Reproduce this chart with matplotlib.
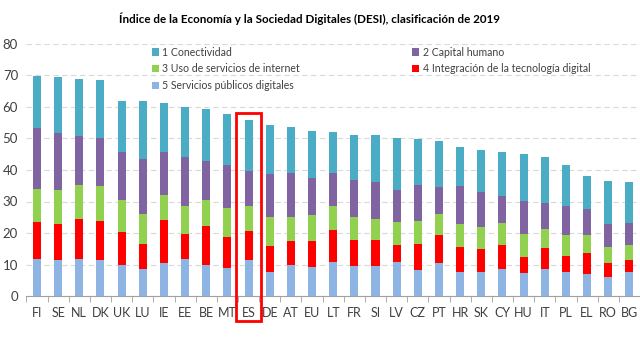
import numpy as np
import matplotlib.pyplot as plt
from matplotlib.patches import Rectangle

paises = ["FI", "SE", "NL", "DK", "UK", "LU", "IE", "EE", "BE", "MT", "ES", "DE", "AT", "EU",
          "LT", "FR", "SI", "LV", "CZ", "PT", "HR", "SK", "CY", "HU", "IT", "PL", "EL", "RO", "BG"]

# componentes DESI (de abajo hacia arriba en la pila)
servicios_publicos = [11.8, 11.5, 11.8, 11.5, 10.0, 8.7, 10.4, 11.8, 9.7, 8.9, 11.5, 7.5, 9.7, 9.2,
                      10.9, 9.5, 9.5, 10.9, 8.3, 10.6, 7.7, 7.7, 8.7, 7.3, 8.7, 7.7, 6.9, 6.1, 7.5]
integracion = [11.7, 11.5, 12.5, 12.3, 10.3, 7.9, 13.6, 7.9, 12.4, 9.7, 9.2, 8.5, 7.9, 8.4,
               10.0, 8.3, 8.3, 5.3, 8.3, 8.7, 7.9, 7.2, 7.5, 5.1, 6.4, 5.0, 6.7, 4.4, 3.9]
uso_internet = [10.5, 10.7, 11.0, 11.1, 10.1, 9.4, 8.2, 9.0, 8.4, 9.3, 7.9, 9.0, 7.6, 8.0,
                7.8, 7.2, 6.7, 7.3, 7.2, 6.7, 7.4, 7.1, 7.1, 7.3, 6.2, 6.6, 5.9, 4.9, 4.8]
capital_humano = [19.4, 18.0, 15.4, 15.3, 15.4, 17.4, 13.6, 15.5, 12.3, 13.6, 11.2, 13.7, 14.0, 12.0,
                  10.5, 11.9, 11.6, 10.1, 11.4, 8.6, 12.0, 11.1, 8.6, 10.5, 8.1, 9.2, 8.1, 7.6, 7.1]
conectividad = [16.5, 17.7, 18.2, 18.4, 16.2, 18.4, 15.5, 15.8, 16.5, 16.4, 16.2, 15.7, 14.6, 14.9,
                12.8, 14.1, 14.9, 16.5, 14.7, 14.6, 12.4, 13.2, 13.8, 15.0, 14.6, 13.0, 10.4, 13.4, 12.9]

series = [
    ("5 Servicios públicos digitales", servicios_publicos, "#8EB4E3"),
    ("4 Integración de la tecnología digital", integracion, "#FF0000"),
    ("3 Uso de servicios de internet", uso_internet, "#92D050"),
    ("2 Capital humano", capital_humano, "#8064A2"),
    ("1 Conectividad", conectividad, "#4BACC6"),
]

plt.rcParams["font.family"] = ["Lato", "DejaVu Sans"]

fig = plt.figure(figsize=(6.4, 3.4), dpi=100)
ax = fig.add_axes([26.4 / 640, 44 / 340, 613.6 / 640, 252 / 340])

x = np.arange(len(paises))
bottom = np.zeros(len(paises))
handles = {}
for name, vals, color in series:
    vals = np.array(vals)
    b = ax.bar(x, vals, width=0.38, bottom=bottom, color=color, label=name, zorder=3)
    handles[name] = b
    bottom += vals

ax.set_ylim(0, 80)
ax.set_xlim(-0.5, len(paises) - 0.5)
ax.set_yticks(range(0, 81, 10))
ax.tick_params(axis="y", length=0, labelsize=9.5, colors="#404040", pad=6)
ax.set_xticks(x)
ax.set_xticklabels(paises)
ax.tick_params(axis="x", which="major", length=0, labelsize=9, colors="#404040", pad=8)
ax.set_xticks(np.arange(-0.5, len(paises), 1), minor=True)
ax.tick_params(axis="x", which="minor", length=4, color="#A0A0A0", direction="out")
ax.grid(axis="y", color="#D9D9D9", linestyle=(0, (5, 3)), linewidth=0.8, zorder=0)
for s in ["left", "right", "top"]:
    ax.spines[s].set_visible(False)
ax.spines["bottom"].set_color("#A0A0A0")

order = ["1 Conectividad", "3 Uso de servicios de internet", "5 Servicios públicos digitales",
         "2 Capital humano", "4 Integración de la tecnología digital"]
leg = ax.legend([handles[n] for n in order], order, ncol=2, loc="upper left",
                bbox_to_anchor=(0.194, 1.015), frameon=False, fontsize=7.6,
                handlelength=0.7, handleheight=0.7, handletextpad=0.3,
                columnspacing=10.6, labelspacing=0.55, borderaxespad=0.2)
for t in leg.get_texts():
    t.set_color("#404040")

fig.text(0.484, 0.945, "Índice de la Economía y la Sociedad Digitales (DESI), clasificación de 2019",
         ha="center", va="center", fontsize=8.4, fontweight="bold", color="#000000")

# recuadro rojo sobre ES
rect = Rectangle((236 / 640, 1 - 321 / 340), 24.7 / 640, 208 / 340, transform=fig.transFigure,
                 fill=False, edgecolor="#FF0000", linewidth=2.0, zorder=10)
fig.patches.append(rect)

fig.savefig("out.png", dpi=100)
